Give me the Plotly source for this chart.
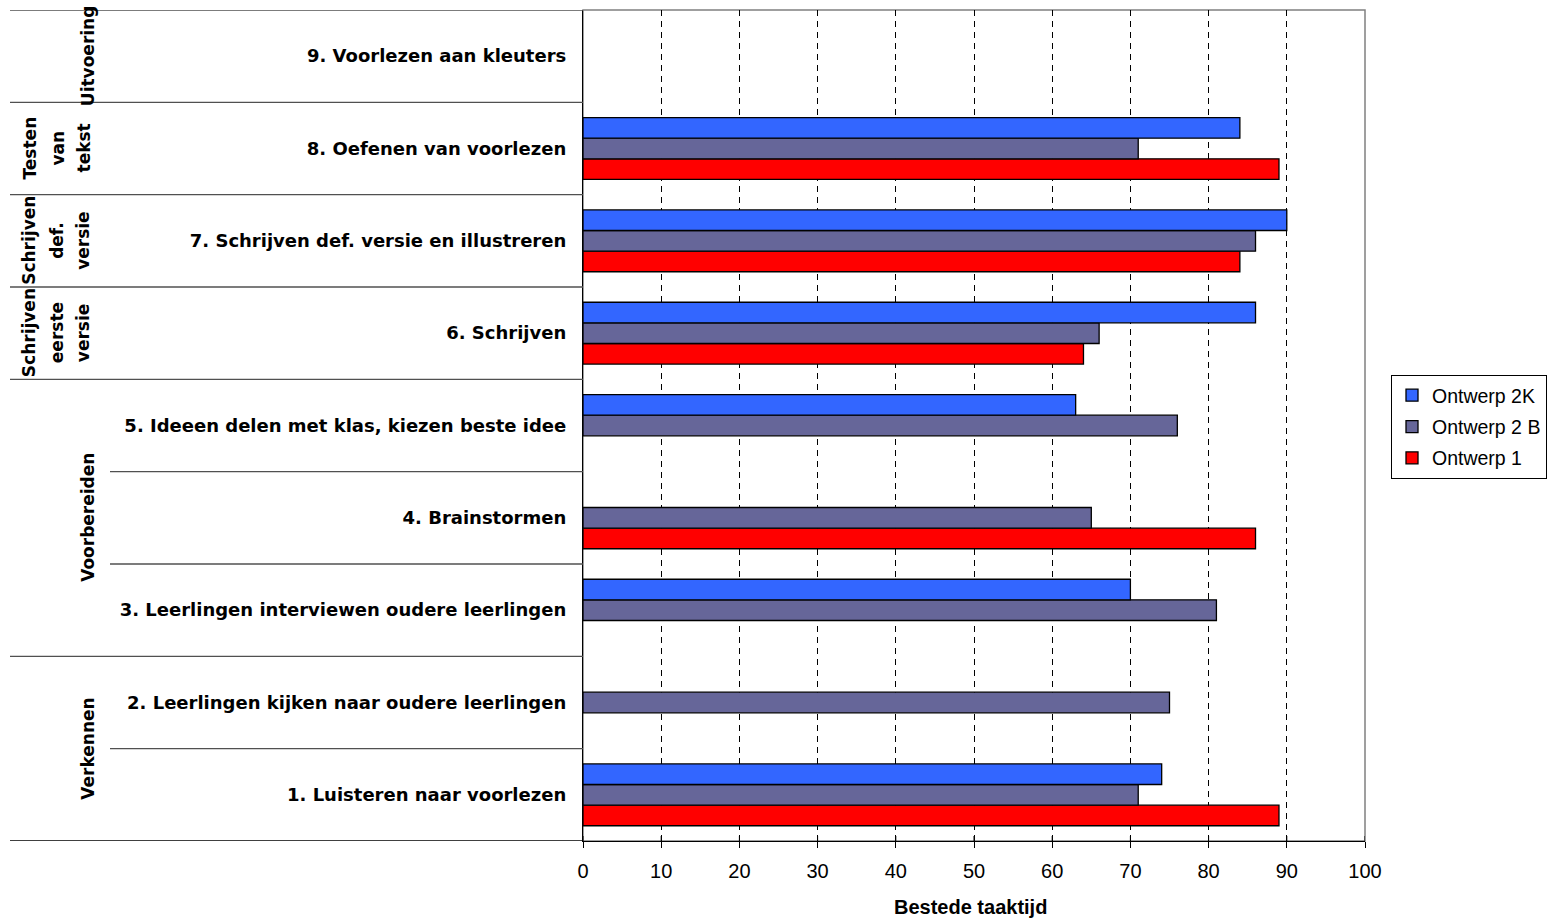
import plotly.graph_objects as go

# ---------------- data ----------------
categories = [
    "1. Luisteren naar voorlezen",
    "2. Leerlingen kijken naar oudere leerlingen",
    "3. Leerlingen interviewen oudere leerlingen",
    "4. Brainstormen",
    "5. Ideeen delen met klas, kiezen beste idee",
    "6. Schrijven",
    "7. Schrijven def. versie en illustreren",
    "8. Oefenen van voorlezen",
    "9. Voorlezen aan kleuters",
]
ontwerp_2k = [74, None, 70, None, 63, 86, 90, 84, None]
ontwerp_2b = [71, 75, 81, 65, 76, 66, 86, 71, None]
ontwerp_1 = [89, None, None, 86, None, 64, 84, 89, None]

series_names = ["Ontwerp 1", "Ontwerp 2 B", "Ontwerp 2K"]
series_colors = ["#FF0000", "#666699", "#3366FF"]
legend_ranks = [3, 2, 1]

group_lines = [["Verkennen"], ["Voorbereiden"], ["Schrijven", "eerste", "versie"],
               ["Schrijven", "def.", "versie"], ["Testen", "van", "tekst"], ["Uitvoering"]]
group_first = [0, 2, 5, 6, 7, 8]
group_last = [1, 4, 5, 6, 7, 8]

x_ticks = [0, 10, 20, 30, 40, 50, 60, 70, 80, 90, 100]
x_title = "Bestede taaktijd"

# ---------------- layout geometry (pixels) ----------------
W, H = 1550, 921
PL, PR, PT, PB = 583, 1365, 10, 841
pw = PR - PL
ph = PB - PT


def px_x(x):
    return (x - PL) / pw


def px_y(y):
    return (PB - y) / ph


FONT = "Liberation Sans, Arial, sans-serif"
BOLDFONT = "DejaVu Sans, Liberation Sans, sans-serif"
LINECOL = "#505050"

fig = go.Figure()
for name, color, vals, rank in zip(series_names, series_colors,
                                   [ontwerp_1, ontwerp_2b, ontwerp_2k], legend_ranks):
    fig.add_trace(go.Bar(
        y=categories, x=vals, name=name, orientation="h",
        marker=dict(color=color, line=dict(color="black", width=1.3)),
        legendgroup=name, legendrank=rank,
    ))

shapes = []
# plot area border (grey)
shapes.append(dict(type="rect", xref="paper", yref="paper", x0=0, x1=1, y0=0, y1=1,
                   line=dict(color="#808080", width=1.5), layer="below"))
# category separators on the left
n = len(categories)
boundaries = [i - 0.5 for i in range(n + 1)]
group_bounds = set([f - 0.5 for f in group_first] + [group_last[-1] + 0.5])
for b in boundaries:
    is_group = b in group_bounds
    x0 = px_x(10) if is_group else px_x(110)
    shapes.append(dict(type="line", xref="paper", yref="y", x0=x0, x1=0, y0=b, y1=b,
                       line=dict(color=LINECOL if b != -0.5 else "black", width=1.3)))
# small inner halves of the crossing tick marks on the value axis
for t in x_ticks:
    shapes.append(dict(type="line", xref="x", yref="paper", x0=t, x1=t,
                       y0=0, y1=px_y(PB - 5), line=dict(color="black", width=1)))

annotations = []
multi_x = [29, 57, 83]
for lines, f, l in zip(group_lines, group_first, group_last):
    xs = [88] if len(lines) == 1 else multi_x
    for txt, xp in zip(lines, xs):
        annotations.append(dict(
            text=txt, xref="paper", yref="y", x=px_x(xp), y=(f + l) / 2,
            textangle=-90, showarrow=False, xanchor="center", yanchor="middle",
            font=dict(family=BOLDFONT, size=17, color="black", weight="bold"),
        ))
annotations.append(dict(
    text=x_title, xref="paper", yref="paper", x=px_x(970), y=px_y(907),
    showarrow=False, xanchor="center", yanchor="middle",
    font=dict(family=FONT, size=20, color="black", weight="bold"),
))

fig.update_layout(
    width=W, height=H,
    margin=dict(l=PL, r=W - PR, t=PT, b=H - PB, pad=0, autoexpand=False),
    paper_bgcolor="white", plot_bgcolor="white",
    barmode="group", bargap=0.33, bargroupgap=0,
    font=dict(family=FONT, color="black"),
    showlegend=True,
    legend=dict(
        x=px_x(1391), y=px_y(375), xanchor="left", yanchor="top",
        traceorder="grouped", bordercolor="black", borderwidth=1,
        bgcolor="white", font=dict(family=FONT, size=19.5, color="black"),
        tracegroupgap=3, itemwidth=30,
    ),
    shapes=shapes,
    annotations=annotations,
    xaxis=dict(
        range=[0, 100], tickvals=x_ticks, showgrid=True,
        gridcolor="black", griddash="6px,5px", gridwidth=1,
        showline=True, linecolor="black", linewidth=1.3,
        ticks="outside", ticklen=6, tickcolor="black",
        tickfont=dict(family=FONT, size=20, color="black"),
        ticklabelstandoff=6, zeroline=False, fixedrange=True,
    ),
    yaxis=dict(
        categoryorder="array", categoryarray=categories,
        range=[-0.5, n - 0.5], showgrid=False, zeroline=False,
        showline=True, linecolor="black", linewidth=1.3,
        ticks="", tickfont=dict(family=BOLDFONT, size=18, color="black", weight="bold"),
        ticklabelstandoff=12, fixedrange=True,
    ),
)

fig.write_html(
    "out.html",
    config={"displayModeBar": False},
    post_script="document.body.style.margin='0';document.body.style.overflow='hidden';",
)
